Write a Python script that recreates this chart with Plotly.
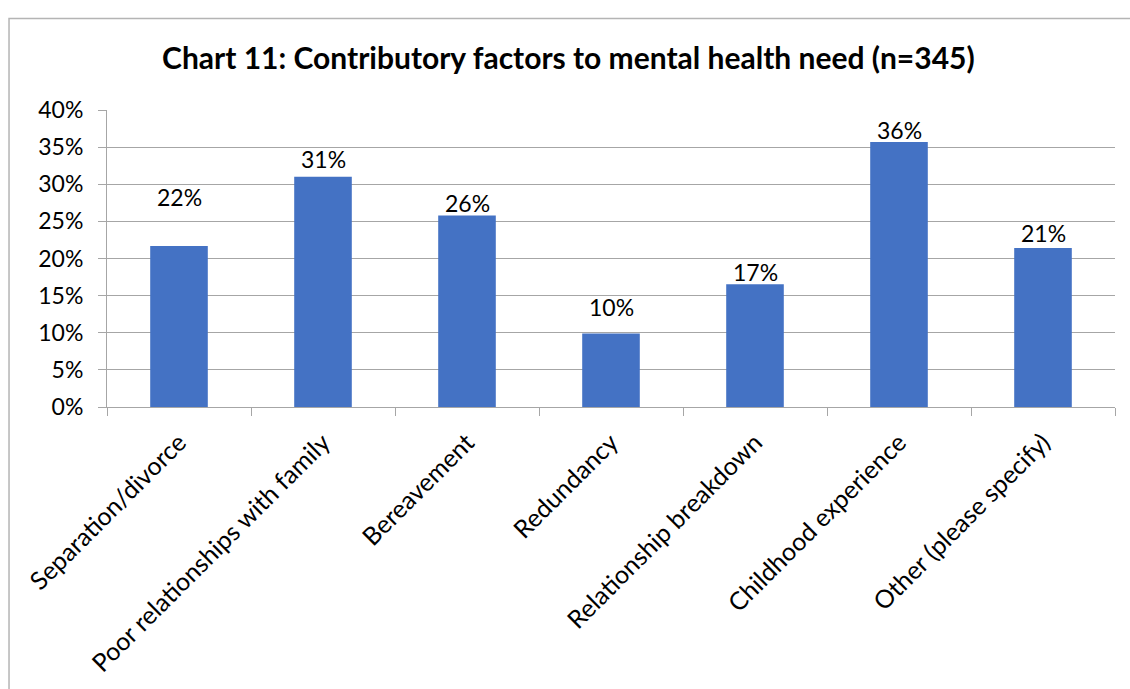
import plotly.graph_objects as go

# Survey responses (n=345): share of respondents citing each factor
categories = [
    "Separation/divorce",
    "Poor relationships with family",
    "Bereavement",
    "Redundancy",
    "Relationship breakdown",
    "Childhood experience",
    "Other (please specify)",
]
shares = [0.217, 0.310, 0.258, 0.099, 0.1652, 0.357, 0.214]
y_ticks = [0, 0.05, 0.10, 0.15, 0.20, 0.25, 0.30, 0.35, 0.40]

# Vertical lift (px) of each value label above its bar top
label_lift = [49, 18, 12, 26, 12, 12, 15]

FONT = "Lato"
BAR_COLOR = "#4472C4"
LINE_GRAY = "#A6A6A6"

fig = go.Figure(
    go.Bar(
        x=categories,
        y=shares,
        marker=dict(color=BAR_COLOR, line=dict(width=0)),
        width=0.4,
        hoverinfo="x+y",
    )
)

for cat, val, lift in zip(categories, shares, label_lift):
    fig.add_annotation(
        x=cat,
        y=val,
        text=f"{val:.0%}",
        showarrow=False,
        yanchor="middle",
        yshift=lift,
        font=dict(family=FONT, size=23, color="#000000"),
    )

# Chart frame (open on the right and bottom edges of the canvas)
fig.add_shape(
    type="rect",
    xref="paper", yref="paper",
    x0=-0.0972, x1=1.05, y0=-1.0, y1=1.308,
    line=dict(color="#B4B4B4", width=1.5),
    fillcolor="rgba(0,0,0,0)",
    layer="below",
)

fig.update_layout(
    width=1130,
    height=689,
    margin=dict(l=107, r=15, t=110, b=277),
    paper_bgcolor="#FFFFFF",
    plot_bgcolor="#FFFFFF",
    showlegend=False,
    bargap=0.6,
    title=dict(
        text="<b>Chart 11: Contributory factors to mental health need (n=345)</b>",
        x=0.503,
        xanchor="center",
        y=1 - 58 / 689,
        yanchor="middle",
        font=dict(family=FONT, size=30, color="#000000"),
    ),
    font=dict(family=FONT, color="#000000"),
)

fig.update_xaxes(
    type="category",
    tickangle=-45,
    tickfont=dict(family=FONT, size=25, color="#000000"),
    showline=True,
    linecolor=LINE_GRAY,
    linewidth=1,
    ticks="outside",
    tickcolor=LINE_GRAY,
    ticklen=8,
    tickson="boundaries",
    ticklabelstandoff=10,
    showgrid=False,
)

fig.update_yaxes(
    range=[0, 0.40],
    tickvals=y_ticks,
    tickformat=".0%",
    tickfont=dict(family=FONT, size=23, color="#000000"),
    showline=True,
    linecolor=LINE_GRAY,
    linewidth=1,
    ticks="outside",
    tickcolor=LINE_GRAY,
    ticklen=8,
    ticklabelstandoff=10,
    showgrid=True,
    gridcolor=LINE_GRAY,
    gridwidth=1,
    zeroline=False,
)

fig.write_html("out.html")
